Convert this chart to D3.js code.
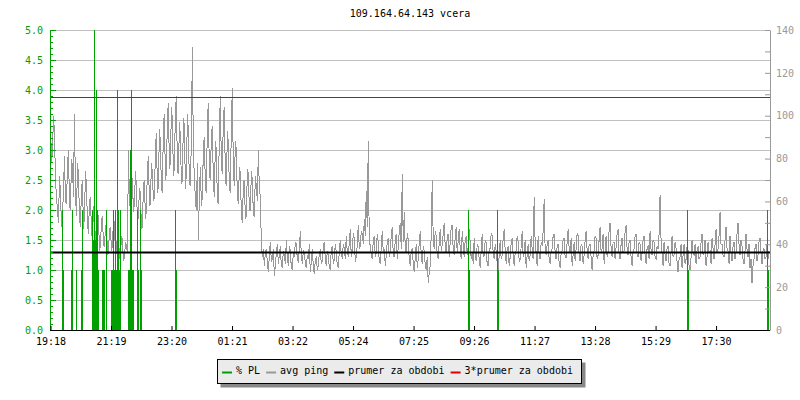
<!DOCTYPE html>
<html>
<head>
<meta charset="utf-8">
<script src="https://cdn.jsdelivr.net/npm/d3@7"></script>
<style>
  body { margin: 0; background: #fff; }
  text { font-family: "DejaVu Sans Mono", monospace; font-size: 10px; }
</style>
</head>
<body>
<div id="chart"></div>
<script>
// chart values
var title = "109.164.64.143 vcera";
var tickLabels = ["19:18", "21:19", "23:20", "01:21", "03:22", "05:24", "07:25", "09:26", "11:27", "13:28", "15:29", "17:30"];
var tickStep = 121.1;      // minutes between the labelled ticks
var spanMinutes = 1440;
var pingStep = 2;          // minutes between ping samples

// avg ping (ms), one sample every 2 minutes from 19:18
var pingMs = [
  98, 78, 84, 100, 92, 70, 62, 56, 50, 72, 64, 48, 53, 66, 81, 60, 59, 77, 84, 58,
  56, 80, 76, 62, 101, 64, 53, 78, 73, 52, 48, 66, 70, 47, 53, 74, 67, 50, 45, 60,
  62, 46, 42, 58, 56, 38, 42, 54, 53, 37, 39, 51, 53, 40, 39, 48, 50, 35, 36, 47,
  48, 37, 39, 52, 50, 35, 36, 46, 45, 33, 34, 44, 42, 32, 34, 41, 39, 36, 84, 60,
  56, 72, 70, 55, 59, 74, 67, 50, 53, 66, 64, 47, 48, 68, 70, 52, 56, 76, 81, 58,
  59, 78, 73, 60, 62, 85, 92, 64, 67, 94, 87, 66, 64, 96, 101, 70, 73, 100, 106, 75,
  78, 104, 98, 72, 76, 102, 109, 74, 73, 97, 90, 68, 70, 99, 95, 66, 73, 101, 92, 69,
  67, 90, 132, 80, 73, 60, 56, 78, 42, 64, 76, 58, 62, 86, 90, 66, 64, 98, 106, 72,
  70, 92, 95, 68, 62, 88, 84, 60, 59, 94, 109, 76, 73, 100, 104, 70, 67, 93, 87, 66,
  64, 96, 113, 74, 67, 88, 84, 62, 59, 76, 73, 54, 50, 68, 70, 52, 53, 75, 73, 56,
  56, 74, 70, 54, 53, 72, 67, 60, 84, 66, 62, 40, 34, 38,
  30, 36, 38, 31, 27, 35, 41, 32, 33, 38, 25, 30, 36, 40, 31, 35, 39, 30, 29, 37,
  35, 31, 42, 34, 30, 39, 37, 29, 28, 36, 34, 41, 40, 33, 32, 38, 46, 35, 31, 37,
  36, 31, 29, 35, 33, 40, 27, 32, 38, 30, 26, 33, 34, 28, 30, 36, 37, 31, 32, 39,
  41, 33, 30, 37, 35, 29, 28, 38, 39, 31, 33, 40, 36, 30, 29, 37, 42, 35, 34, 40,
  38, 33, 44, 36, 35, 41, 47, 34, 37, 45, 43, 32, 34, 40, 49, 38, 39, 46, 45, 40, 52, 44,
  65, 48, 88, 40,
  40, 35, 33, 42, 44, 34, 36, 45, 41, 32, 31, 39, 46, 36, 38, 30, 35, 41, 43, 34,
  37, 44, 48, 35, 34, 42, 45, 33, 39, 46, 50, 38,
  73, 41,
  55, 38, 36, 45, 42, 33, 30, 37, 38, 31, 27, 34, 40, 29, 33, 41, 46, 35, 31, 39, 37, 30, 28, 34,
  22, 27, 30, 45, 70, 42,
  38, 46, 44, 35, 33, 41, 47, 37, 40, 45, 50, 39, 36, 43, 45, 34, 41, 48, 49, 37,
  35, 44, 48, 36, 42, 47, 38, 33, 46, 40, 34, 42, 44, 35, 39, 47, 41, 33,
  36, 31, 43, 35, 32, 40, 39, 33, 29, 37, 45, 34, 35, 42, 41, 30, 30, 38, 38, 45,
  44, 36, 33, 40, 37, 31, 28, 35, 42, 33, 35, 43, 47, 37, 31, 38, 39, 30, 34, 41,
  43, 35, 30, 36, 37, 44, 41, 32, 33, 39, 46, 34, 36, 42, 29, 35, 40, 32, 35, 44,
  38, 33,
  62, 40, 36, 30, 44, 35, 33, 41, 40, 46, 61, 37,
  35, 40, 42, 33, 31, 37, 38, 44, 45, 36, 33, 39, 40, 31, 29, 36, 37, 42, 43, 34,
  34, 41, 47, 38, 36, 43, 30, 35, 41, 32, 38, 45, 44, 35, 32, 40, 39, 31, 35, 42,
  46, 37, 33, 40, 40, 34, 28, 35, 37, 44, 43, 33, 35, 42, 48, 36, 38, 45, 31, 37,
  44, 34, 36, 47, 50, 38, 34, 41, 41, 33, 39, 45, 47, 35, 33, 40, 43, 36, 37, 46,
  49, 38, 35, 41, 42, 34, 30, 37, 38, 44, 45, 35, 34, 41, 40, 32, 36, 42, 44, 35,
  31, 38, 39, 33, 46, 37, 35, 42, 41, 34, 33, 39, 38, 45,
  63, 42,
  36, 30, 41, 35, 32, 38, 39, 31, 30, 37, 44, 34, 35, 41, 38, 32, 27, 33, 34, 40,
  29, 35, 40, 31, 33, 39, 37, 30, 28, 34, 42, 36, 35, 40, 31, 37, 39, 33, 34, 41,
  45, 35, 36, 42, 30, 34, 41, 36, 37, 31, 43, 38, 33, 40, 47, 36, 38, 44,
  55, 40,
  40, 35, 34, 42, 48, 38, 37, 31, 44, 36, 32, 39, 41, 33, 36, 45, 50, 40, 35, 42,
  39, 33, 31, 37, 45, 38, 34, 40, 29, 33,
  22, 30,
  33, 38, 40, 32, 35, 41, 43, 36, 31, 37, 38, 33, 34, 40, 37, 33
];

// packet loss (%), minutes after 19:18
var plMinutes = [23, 25, 41, 43, 51, 61, 63, 83, 85, 87, 89, 91, 93, 95,
  103, 105, 107, 111, 121, 123, 125, 127, 129, 131, 133, 135, 137, 139,
  155, 157, 159, 161, 163, 165, 173, 175, 179, 181, 249, 251,
  835, 837, 893, 895, 1273, 1275, 1433, 1435];
var plValues = [2, 1, 1, 2, 1, 1, 2, 2, 1.5, 5, 1.5, 4, 2, 1,
  1, 1, 1, 2, 1, 1, 2, 1, 2, 1, 4, 2, 1, 2,
  1, 1, 3, 4, 1, 1, 2, 1, 2, 1, 2, 1,
  2, 1, 2, 1, 2, 1, 2, 1];

var avgPing = 36.2;

var legendLabels = ["% PL", "avg ping", "prumer za obdobi", "3*prumer za obdobi"];
var legendColors = ["#00a000", "#999999", "#000000", "#e00000"];

var green = "#00a000";

function gen_chart() {
  var width = 800, height = 400;
  var left = 50, right = 770, top = 30, bottom = 330;

  var svg = d3.select("#chart").append("svg")
      .attr("width", width)
      .attr("height", height);

  // scales
  var x = d3.scaleLinear().domain([0, spanMinutes]).range([left + 0.5, right]);
  var yL = d3.scaleLinear().domain([0, 5]).range([bottom, top]);
  var yR = d3.scaleLinear().domain([0, 140]).range([bottom, top]);

  // title
  svg.append("text")
      .attr("x", (left + right) / 2)
      .attr("y", 17)
      .style("text-anchor", "middle")
      .attr("fill", "#000")
      .text(title);

  // horizontal grid
  svg.append("g").selectAll("line")
      .data(d3.range(1, 11).map(function(d) { return d / 2; }))
    .enter().append("line")
      .attr("x1", left)
      .attr("x2", right)
      .attr("y1", function(d) { return Math.round(yL(d)) + 0.5; })
      .attr("y2", function(d) { return Math.round(yL(d)) + 0.5; })
      .attr("stroke", "#c0c0c0");

  // avg ping line
  var pingLine = d3.line()
      .x(function(d, i) { return x(i * pingStep); })
      .y(function(d) { return yR(d); });

  svg.append("path")
      .datum(pingMs)
      .attr("fill", "none")
      .attr("stroke", "#999999")
      .attr("stroke-width", 1)
      .attr("shape-rendering", "crispEdges")
      .attr("d", pingLine);

  // packet loss bars
  svg.append("g").selectAll("rect")
      .data(plMinutes)
    .enter().append("rect")
      .attr("x", function(d) { return Math.round(x(d)); })
      .attr("width", 1)
      .attr("y", function(d, i) { return yL(plValues[i]); })
      .attr("height", function(d, i) { return yL(0) - yL(plValues[i]); })
      .attr("fill", green)
      .attr("shape-rendering", "crispEdges");

  // average and 3*average
  svg.append("line")
      .attr("x1", left).attr("x2", right)
      .attr("y1", yR(avgPing)).attr("y2", yR(avgPing))
      .attr("stroke", "#000")
      .attr("stroke-width", 2);

  svg.append("line")
      .attr("x1", left).attr("x2", right)
      .attr("y1", Math.round(yR(3 * avgPing)) + 0.5).attr("y2", Math.round(yR(3 * avgPing)) + 0.5)
      .attr("stroke", "#e00000")
      .attr("stroke-width", 1);

  // left axis (% PL)
  var yAxisMinor = d3.axisLeft(yL)
      .tickValues(d3.range(0, 51).map(function(d) { return d / 10; }))
      .tickSizeInner(-3)
      .tickSizeOuter(0)
      .tickFormat("");
  var yAxis = d3.axisLeft(yL)
      .tickValues(d3.range(0, 11).map(function(d) { return d / 2; }))
      .tickSizeInner(-6)
      .tickSizeOuter(0)
      .tickPadding(7)
      .tickFormat(d3.format(".1f"));

  var gl = svg.append("g").attr("transform", "translate(" + left + ",0)");
  gl.append("g").call(yAxisMinor);
  gl.append("g").call(yAxis);
  gl.selectAll("path, line").attr("stroke", green);
  gl.selectAll("text").attr("fill", green).style("font-size", "10px")
      .style("font-family", "DejaVu Sans Mono, monospace");

  // right axis (ms)
  var yAxisRight = d3.axisRight(yR)
      .tickValues(d3.range(0, 141, 10))
      .tickSizeInner(-5)
      .tickSizeOuter(0)
      .tickPadding(6)
      .tickFormat(function(d) { return d % 20 == 0 ? d : ""; });

  var gr = svg.append("g")
      .attr("transform", "translate(" + right + ",0)")
      .call(yAxisRight);
  gr.selectAll("path, line").attr("stroke", "#999999");
  gr.selectAll("text").attr("fill", "#999999").style("font-size", "10px")
      .style("font-family", "DejaVu Sans Mono, monospace");

  // time axis
  var xAxis = d3.axisBottom(x)
      .tickValues(tickLabels.map(function(d, i) { return i * tickStep; }))
      .tickFormat(function(d, i) { return tickLabels[i]; })
      .tickSizeInner(-4)
      .tickSizeOuter(0)
      .tickPadding(8);

  var gx = svg.append("g")
      .attr("transform", "translate(0," + bottom + ")")
      .call(xAxis);
  gx.select(".domain").attr("d", "M" + left + ",0.5H" + right);
  gx.selectAll("path, line").attr("stroke", "#000");
  gx.selectAll("text").attr("fill", "#000").style("font-size", "10px")
      .style("font-family", "DejaVu Sans Mono, monospace");

  // legend
  var lx = 217.5, ly = 359.5, lh = 24;
  var legend = svg.append("g");
  var shadow = legend.append("rect").attr("fill", "#888888");
  var box = legend.append("rect").attr("fill", "#ebebeb").attr("stroke", "#000");

  var cx = lx + 4.5;
  legendLabels.forEach(function(label, i) {
    legend.append("line")
        .attr("x1", cx).attr("x2", cx + 10)
        .attr("y1", ly + 13).attr("y2", ly + 13)
        .attr("stroke", legendColors[i])
        .attr("stroke-width", 2);
    var t = legend.append("text")
        .attr("x", cx + 14)
        .attr("y", ly + 14)
        .attr("fill", "#000")
        .text(label);
    cx = cx + 14 + t.node().getComputedTextLength() + 6;
  });
  var lw = Math.round(cx - lx + 3);

  box.attr("x", lx).attr("y", ly).attr("width", lw).attr("height", lh);
  shadow.attr("x", lx + 3).attr("y", ly + 3).attr("width", lw + 1).attr("height", lh + 1);
}
gen_chart();
</script>
</body>
</html>
